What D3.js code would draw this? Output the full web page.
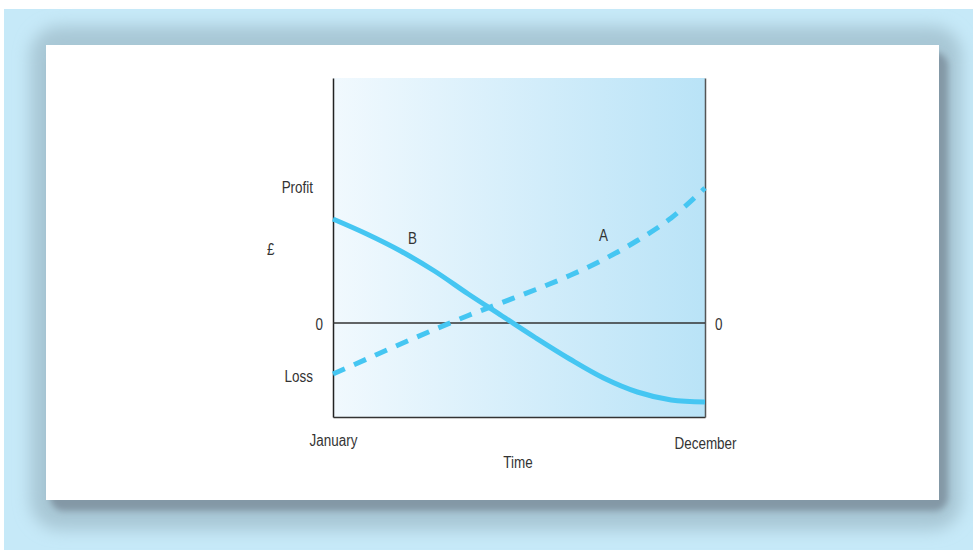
<!DOCTYPE html>
<html>
<head>
<meta charset="utf-8">
<script src="https://cdn.jsdelivr.net/npm/d3@7"></script>
<style>
  html, body { margin: 0; padding: 0; background: #ffffff; }
  svg { display: block; }
  text { font-family: "Liberation Sans", Arial, sans-serif; fill: #333333; font-size: 16px; }
</style>
</head>
<body>
<script>
// Months along the horizontal axis (only the ends are labelled)
const months = ["January", "February", "March", "April", "May", "June",
                "July", "August", "September", "October", "November", "December"];
const xTickLabels = ["January", "December"];

// Profit (+) / loss (−) for the two firms, one value per month
const seriesA = [-51, -36, -21, -6.5, 7.5, 20.5, 33.5, 47.5, 63.5, 82.5, 105, 135];
const seriesB = [104, 89, 72, 52, 29, 7, -15, -36, -55, -69, -77, -79];

const seriesNames = ["A", "B"];
// Where each curve's letter sits (month index, value)
const nameAnchors = { A: [8, 82], B: [2.35, 79] };

const W = 973, H = 551;
const svg = d3.select("body").append("svg").attr("width", W).attr("height", H);
const defs = svg.append("defs");

// narrow lettering: squeeze each label horizontally
function condense(sel, k = 0.84) {
  sel.each(function () {
    const len = this.getComputedTextLength();
    d3.select(this).attr("textLength", len * k).attr("lengthAdjust", "spacingAndGlyphs");
  });
}

// soft shadow filters
defs.append("filter").attr("id", "halo").attr("x", "-10%").attr("y", "-10%").attr("width", "120%").attr("height", "120%")
  .append("feGaussianBlur").attr("stdDeviation", 8);
defs.append("filter").attr("id", "drop").attr("x", "-10%").attr("y", "-10%").attr("width", "120%").attr("height", "120%")
  .append("feGaussianBlur").attr("stdDeviation", 3);

// plot-area gradient
const grad = defs.append("linearGradient").attr("id", "plotFill")
  .attr("x1", "0%").attr("x2", "100%").attr("y1", "0%").attr("y2", "0%");
grad.append("stop").attr("offset", "0%").attr("stop-color", "#f1f9fe");
grad.append("stop").attr("offset", "100%").attr("stop-color", "#b9e3f7");

// page panel
svg.append("rect").attr("x", 4).attr("y", 9).attr("width", W - 4).attr("height", 541).attr("fill", "#c6e9f8");

// card shadow
svg.append("rect").attr("x", 30).attr("y", 26).attr("width", 932).attr("height", 504).attr("rx", 30)
  .attr("fill", "#a8c7d5").attr("filter", "url(#halo)");
svg.append("rect").attr("x", 50).attr("y", 52).attr("width", 898).attr("height", 459).attr("rx", 14)
  .attr("fill", "#8398a6").attr("filter", "url(#drop)");

// card
svg.append("rect").attr("x", 46).attr("y", 45).attr("width", 893).attr("height", 455).attr("fill", "#ffffff");

// scales
const x = d3.scalePoint().domain(months).range([333, 705]);
const y = d3.scaleLinear().domain([-94, 245]).range([417, 78]);

// plot background
svg.append("rect").attr("x", x.range()[0]).attr("y", y(245))
  .attr("width", x.range()[1] - x.range()[0]).attr("height", y(-94) - y(245))
  .attr("fill", "url(#plotFill)");

// axes
const xAxis = svg.append("g").attr("transform", `translate(0,${y(-94)})`)
  .call(d3.axisBottom(x).tickValues(xTickLabels).tickSize(0).tickPadding(18));
xAxis.select(".domain").attr("stroke", "#333").attr("stroke-width", 1.5);
xAxis.selectAll("text").attr("font-size", 16).attr("font-family", null).attr("fill", "#333");
xAxis.selectAll(".tick").filter(d => d === "December").select("text").attr("dy", "0.9em");

const yAxis = svg.append("g").attr("transform", `translate(${x.range()[0]},0)`)
  .call(d3.axisLeft(y).tickValues([0]).tickSize(0).tickPadding(10).tickSizeOuter(0));
yAxis.select(".domain").attr("stroke", "#222").attr("stroke-width", 1.5);
yAxis.selectAll("text").attr("font-size", 16).attr("font-family", null).attr("fill", "#333").attr("dy", "0.4em");

const yAxisR = svg.append("g").attr("transform", `translate(${x.range()[1]},0)`)
  .call(d3.axisRight(y).tickValues([0]).tickSize(0).tickPadding(10).tickSizeOuter(0));
yAxisR.select(".domain").attr("stroke", "#555").attr("stroke-width", 1.5);
yAxisR.selectAll("text").attr("font-size", 16).attr("font-family", null).attr("fill", "#333").attr("dy", "0.4em");

// zero line
svg.append("line").attr("x1", x.range()[0]).attr("x2", x.range()[1])
  .attr("y1", y(0)).attr("y2", y(0)).attr("stroke", "#333").attr("stroke-width", 1.3);

// curves
const line = d3.line().x((d, i) => x(months[i])).y(d => y(d)).curve(d3.curveCatmullRom.alpha(0.5));
const curveColor = "#45c6f2";
svg.append("path").datum(seriesB).attr("d", line).attr("fill", "none")
  .attr("stroke", curveColor).attr("stroke-width", 5);
svg.append("path").datum(seriesA).attr("d", line).attr("fill", "none")
  .attr("stroke", curveColor).attr("stroke-width", 5).attr("stroke-dasharray", "13,10");

// curve names
const step = x.step();
seriesNames.forEach(n => {
  const [mi, v] = nameAnchors[n];
  svg.append("text").attr("x", x.range()[0] + mi * step).attr("y", y(v))
    .attr("text-anchor", "middle").text(n);
});

// side labels
svg.append("text").attr("x", 313).attr("y", 193).attr("text-anchor", "end").text("Profit");
svg.append("text").attr("x", 267).attr("y", 255).text("£");
svg.append("text").attr("x", 313).attr("y", 382).attr("text-anchor", "end").text("Loss");
svg.append("text").attr("x", 518).attr("y", 468).attr("text-anchor", "middle").text("Time");

condense(svg.selectAll("text"));
</script>
</body>
</html>
